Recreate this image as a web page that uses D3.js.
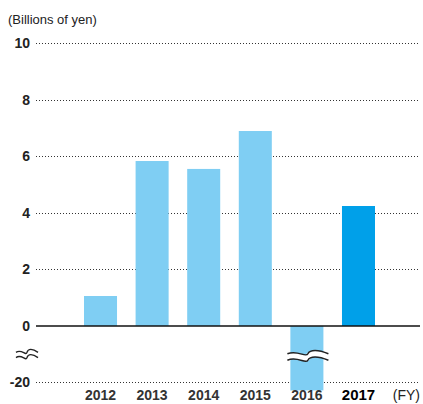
<!DOCTYPE html>
<html>
<head>
<meta charset="utf-8">
<script src="https://cdn.jsdelivr.net/npm/d3@7"></script>
<style>
  body { margin: 0; background: #fff; }
  text { font-family: "Liberation Sans Narrow", "Arial Narrow", "Liberation Sans", sans-serif; }
</style>
</head>
<body>
<div id="chart"></div>
<script>
// data
const years = ["2012", "2013", "2014", "2015", "2016", "2017"];
const values = [1.06, 5.83, 5.55, 6.89, -23, 4.24];
const ticksUpper = [0, 2, 4, 6, 8, 10];
const tickLower = -20;

const width = 423, height = 404;

const svg = d3.select("#chart").append("svg")
    .attr("width", width)
    .attr("height", height);

// upper scale (0..10) and compressed lower part below the break
const y = d3.scaleLinear().domain([0, 10]).range([326, 43]);
const yLow = d3.scaleLinear().domain([0, -20]).range([326, 382]);
const yPos = v => v >= 0 ? y(v) : yLow(v);

const x = d3.scaleBand()
    .domain(years)
    .range([84, 375])
    .paddingInner(0.36)
    .paddingOuter(0);

// dotted gridlines
const grid = ticksUpper.filter(d => d !== 0).concat([tickLower]);
svg.selectAll("line.grid")
    .data(grid)
    .enter()
    .append("line")
    .attr("class", "grid")
    .attr("x1", 36)
    .attr("x2", 420)
    .attr("y1", d => Math.round(yPos(d)) + 0.5)
    .attr("y2", d => Math.round(yPos(d)) + 0.5)
    .attr("stroke", "#333")
    .attr("stroke-width", 1)
    .attr("stroke-dasharray", "1,2");

// tick labels
svg.selectAll("text.tick")
    .data(ticksUpper.concat([tickLower]))
    .enter()
    .append("text")
    .attr("class", "tick")
    .attr("x", 30)
    .attr("y", d => yPos(d))
    .attr("dy", "0.36em")
    .attr("text-anchor", "end")
    .style("font-size", "14px")
    .style("font-weight", "bold")
    .attr("fill", "#222")
    .text(d => d);

// bars
svg.selectAll("rect.bar")
    .data(years.map((yr, i) => ({ year: yr, value: values[i] })))
    .enter()
    .append("rect")
    .attr("class", "bar")
    .attr("x", d => x(d.year))
    .attr("y", d => Math.min(yPos(d.value), yPos(0)))
    .attr("width", x.bandwidth())
    .attr("height", d => Math.abs(yPos(d.value) - yPos(0)))
    .attr("fill", d => d.year === "2017" ? "#00a0e9" : "#7fcef3");

// zero line
svg.append("line")
    .attr("x1", 36)
    .attr("x2", 420)
    .attr("y1", y(0))
    .attr("y2", y(0))
    .attr("stroke", "#111")
    .attr("stroke-width", 1.5);

// wave helper
function wave(x0, x1, yc, amp) {
    const w = x1 - x0;
    return `M${x0},${yc} C${x0 + w * 0.25},${yc - amp * 2} ${x0 + w * 0.45},${yc + amp * 2} ${x0 + w * 0.5},${yc}`
        + ` S${x0 + w * 0.75},${yc - amp * 2} ${x1},${yc}`;
}

// break mark on the axis
const breakY = 355;
[-2.6, 2.6].forEach(off => {
    svg.append("path")
        .attr("d", wave(16, 38, breakY + off, 2))
        .attr("fill", "none")
        .attr("stroke", "#222")
        .attr("stroke-width", 1.4);
});

// break mark across the 2016 bar
const bx0 = x("2016") - 3, bx1 = x("2016") + x.bandwidth() + 5;
svg.append("path")
    .attr("d", wave(bx0, bx1, 357, 2.2))
    .attr("fill", "none")
    .attr("stroke", "#fff")
    .attr("stroke-width", 6);
[-3.2, 3.2].forEach(off => {
    svg.append("path")
        .attr("d", wave(bx0, bx1, 357 + off, 2.2))
        .attr("fill", "none")
        .attr("stroke", "#222")
        .attr("stroke-width", 1.5);
});

// year labels
svg.selectAll("text.year")
    .data(years)
    .enter()
    .append("text")
    .attr("class", "year")
    .attr("x", d => x(d) + x.bandwidth() / 2)
    .attr("y", 400)
    .attr("text-anchor", "middle")
    .style("font-size", d => d === "2017" ? "15px" : "14px")
    .style("font-weight", "bold")
    .attr("fill", d => d === "2017" ? "#000" : "#333")
    .text(d => d);

svg.append("text")
    .attr("x", 420)
    .attr("y", 400)
    .attr("text-anchor", "end")
    .style("font-size", "14px")
    .attr("fill", "#222")
    .text("(FY)");

svg.append("text")
    .attr("x", 8)
    .attr("y", 24)
    .style("font-size", "13px")
    .attr("fill", "#222")
    .text("(Billions of yen)");
</script>
</body>
</html>
